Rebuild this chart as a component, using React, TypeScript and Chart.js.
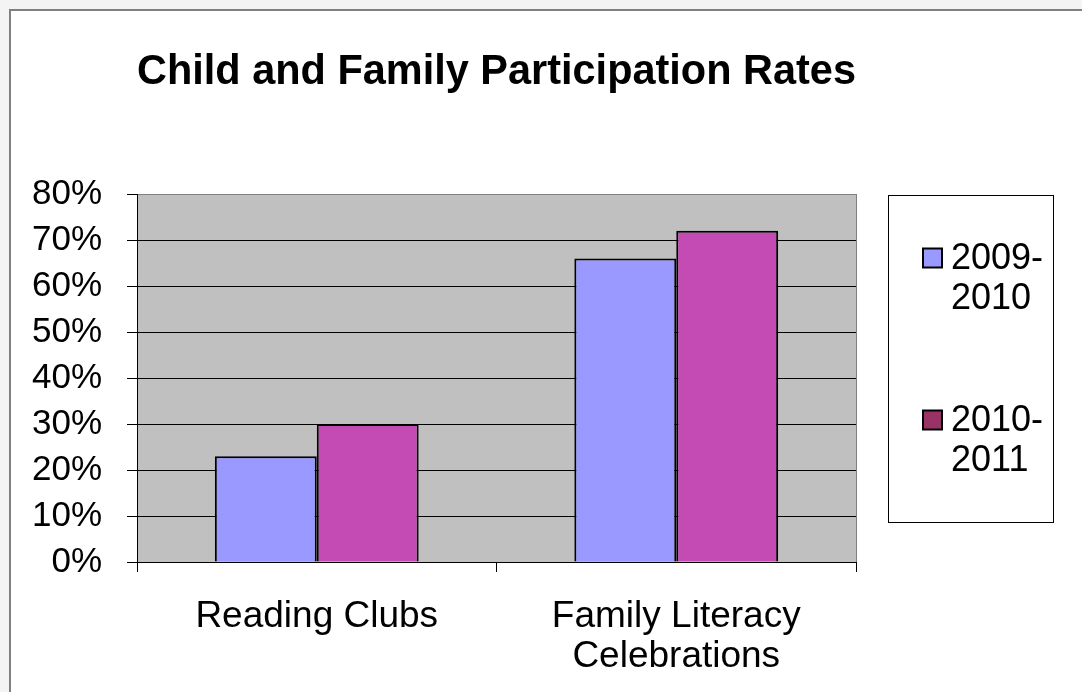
import { useEffect, useRef } from "react";
import { Chart, registerables } from "chart.js";

Chart.register(...registerables);

// Categories along the x axis (arrays wrap onto several lines)
const categories: (string | string[])[] = ["Reading Clubs", ["Family Literacy", "Celebrations"]];

// School-year series
const seriesNames = ["2009-2010", "2010-2011"];
const rates2009 = [0.23, 0.66];
const rates2010 = [0.3, 0.72];

// Value axis
const yMin = 0;
const yMax = 0.8;
const yStep = 0.1;

const barColors = ["#9999FF", "#C44BB4"];
const legendSwatches = ["#9999FF", "#993366"];

const FONT = "'Liberation Sans', Arial, Helvetica, sans-serif";

const CANVAS_W = 1071;
const CANVAS_H = 681;

// Grey plot-area fill behind the bars
const plotBackground = {
  id: "plotBackground",
  beforeDraw(chart: any) {
    const { ctx, chartArea } = chart;
    ctx.save();
    ctx.fillStyle = "#C0C0C0";
    ctx.fillRect(chartArea.left, chartArea.top, chartArea.width, chartArea.height);
    ctx.restore();
  },
};

// Boxed legend with the series names wrapped after the hyphen
const boxedLegend = {
  id: "boxedLegend",
  afterDraw(chart: any) {
    const { ctx } = chart;
    const boxX = 877.5;
    const boxY = 184.5;
    const boxW = 165;
    const boxH = 327;
    const rowCenters = [247, 409];
    const lineGap = 40;
    ctx.save();
    ctx.strokeStyle = "#000";
    ctx.lineWidth = 1;
    ctx.strokeRect(boxX, boxY, boxW, boxH);
    ctx.font = `36px ${FONT}`;
    ctx.textBaseline = "middle";
    ctx.textAlign = "left";
    chart.data.datasets.forEach((ds: any, i: number) => {
      const cy = rowCenters[i];
      ctx.fillStyle = legendSwatches[i];
      ctx.fillRect(912, cy - 9.5, 19, 19);
      ctx.lineWidth = 2;
      ctx.strokeStyle = "#000";
      ctx.strokeRect(912, cy - 9.5, 19, 19);
      const text: string = ds.label;
      const cut = text.indexOf("-") + 1;
      const lines = [text.slice(0, cut), text.slice(cut)];
      ctx.fillStyle = "#000";
      lines.forEach((ln, j) => ctx.fillText(ln, 940, cy + 1 + j * lineGap));
    });
    ctx.restore();
  },
};

export default function App() {
  const canvasRef = useRef<HTMLCanvasElement | null>(null);

  useEffect(() => {
    if (!canvasRef.current) return;
    const chart = new Chart(canvasRef.current, {
      type: "bar",
      data: {
        labels: categories,
        datasets: [
          {
            label: seriesNames[0],
            data: rates2009,
            backgroundColor: barColors[0],
            borderColor: "#000",
            borderWidth: 2,
          },
          {
            label: seriesNames[1],
            data: rates2010,
            backgroundColor: barColors[1],
            borderColor: "#000",
            borderWidth: 2,
          },
        ],
      },
      options: {
        responsive: false,
        animation: false,
        devicePixelRatio: 1,
        layout: { padding: { left: 0, right: 226, top: 0, bottom: 0 } },
        datasets: {
          bar: { categoryPercentage: 0.567, barPercentage: 1 },
        },
        plugins: {
          legend: { display: false },
          tooltip: { enabled: false },
          title: {
            display: true,
            text: "Child and Family Participation Rates",
            fullSize: false,
            align: "start",
            color: "#000",
            font: { family: FONT, size: 42, weight: "bold", lineHeight: 1.2 },
            padding: { top: 36, bottom: 96.6 },
          },
        },
        scales: {
          x: {
            grid: {
              offset: true,
              drawOnChartArea: true,
              color: (ctx: any) => (ctx.type === "tick" ? "rgba(0,0,0,0)" : "#808080"),
              tickColor: "#000",
              tickLength: 10,
              lineWidth: 1,
            },
            border: { color: "#000", width: 1 },
            ticks: {
              color: "#000",
              font: { family: FONT, size: 37, lineHeight: 1.1 },
              padding: 24,
              maxRotation: 0,
              autoSkip: false,
            },
            afterFit(scale: any) {
              scale.height = 130;
            },
          },
          y: {
            min: yMin,
            max: yMax,
            grid: {
              color: (ctx: any) =>
                ctx.tick && ctx.tick.value >= yMax - 1e-6 ? "#808080" : "#000",
              tickColor: "#000",
              tickLength: 10,
              lineWidth: 1,
            },
            border: { color: "#000", width: 1 },
            ticks: {
              stepSize: yStep,
              autoSkip: false,
              color: "#000",
              font: { family: FONT, size: 35, lineHeight: 1 },
              padding: 25,
              callback: (v: any) => `${Math.round(Number(v) * 100)}%`,
            },
            afterFit(scale: any) {
              scale.width = 126;
            },
          },
        },
      },
      plugins: [plotBackground, boxedLegend],
    });
    return () => chart.destroy();
  }, []);

  return (
    <div
      style={{
        position: "absolute",
        left: 0,
        top: 0,
        width: 1082,
        height: 692,
        overflow: "hidden",
        background: "#f4f4f4",
      }}
    >
      <div
        style={{
          position: "absolute",
          left: 9,
          top: 9,
          width: 1100,
          height: 700,
          background: "#fff",
          borderLeft: "2px solid #808080",
          borderTop: "2px solid #808080",
        }}
      >
        <canvas
          ref={canvasRef}
          width={CANVAS_W}
          height={CANVAS_H}
          style={{ display: "block", width: CANVAS_W, height: CANVAS_H }}
        />
      </div>
    </div>
  );
}
